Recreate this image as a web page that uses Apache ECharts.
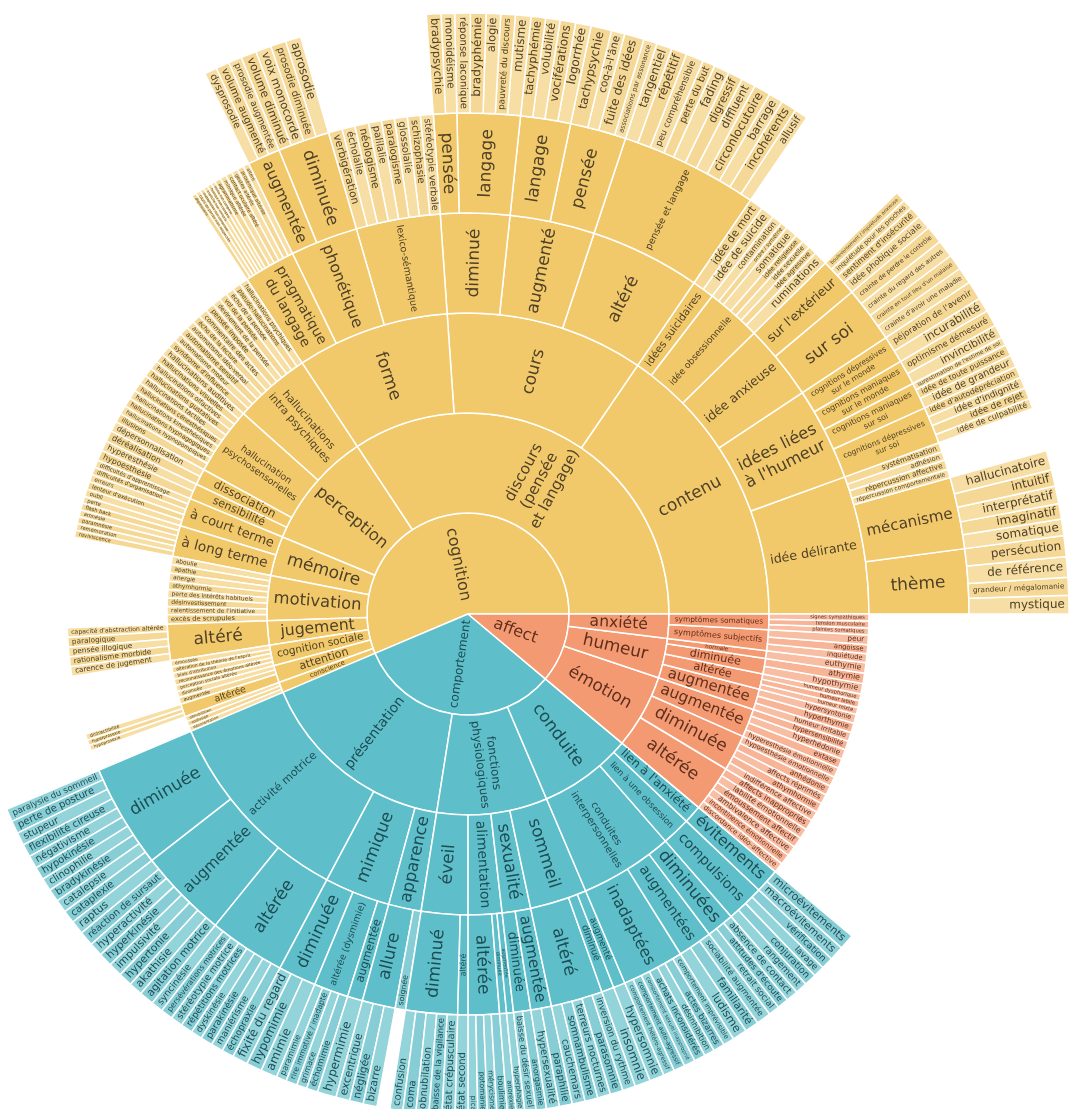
<!DOCTYPE html>
<html lang="fr">
<head>
<meta charset="utf-8">
<title>Sémiologie psychiatrique</title>
<script src="https://cdn.jsdelivr.net/npm/echarts@6/dist/echarts.min.js"></script>
<style>
html,body{margin:0;padding:0;background:#ffffff;}
#chart{width:1072px;height:1109px;}
</style>
</head>
<body>
<div id="chart"></div>
<script>
// ---------------- DATA ----------------
const rootNames = ["cognition", "comportement", "affect"];
const D = "discours\n(pensée\net langage)";
const H = "idées liées\nà l'humeur";
const F = "fonctions\nphysiologiques";
const CI = "conduites\ninterpersonnelles";

// each group: [path of parents (from the root category), leaves under it]
const cognitionGroups = [
  [`${D}|contenu|idée délirante|thème`, ["mystique","grandeur / mégalomanie","de référence","persécution"]],
  [`${D}|contenu|idée délirante|mécanisme`, ["somatique","imaginatif","interprétatif","intuitif","hallucinatoire"]],
  [`${D}|contenu|idée délirante`, ["répercussion comportementale","répercussion affective","adhésion","systématisation"]],
  [`${D}|contenu|${H}|cognitions dépressives\nsur soi`, ["idée de culpabilité","idée de rejet","idée d'indignité","idée d'autodépréciation"]],
  [`${D}|contenu|${H}|cognitions maniaques\nsur soi`, ["idée de grandeur","idée de toute puissance","surestimation de l'estime de soi"]],
  [`${D}|contenu|${H}|cognitions maniaques\nsur le monde`, ["invincibilité","optimisme démesuré"]],
  [`${D}|contenu|${H}|cognitions dépressives\nsur le monde`, ["incurabilité","péjoration de l'avenir"]],
  [`${D}|contenu|idée anxieuse|sur soi`, ["crainte d'avoir une maladie","crainte en tout lieu d'un malaise","crainte du regard des autres","crainte de perdre le contrôle"]],
  [`${D}|contenu|idée anxieuse|sur l'extérieur`, ["idée phobique sociale","sentiment d'insécurité","inquiétude pour les proches","bouleversement / inquiétude anxieuse"]],
  [`${D}|contenu|idée obsessionnelle`, ["ruminations","idée agressive","idée sexuelle","idée religieuse","somatique","ordre / symétrie","contamination"]],
  [`${D}|contenu|idées suicidaires`, ["idée de suicide","idée de mort"]],
  [`${D}|cours|altéré|pensée et langage`, ["allusif","incohérents","barrage","circonlocutoire","diffluent","digressif","fading","perte du but","peu compréhensible","répétitif","tangentiel"]],
  [`${D}|cours|augmenté|pensée`, ["associations par assonance","fuite des idées","coq-à-l'âne","tachypsychie"]],
  [`${D}|cours|augmenté|langage`, ["logorrhée","vociférations","volubilité","tachyphémie"]],
  [`${D}|cours|diminué|langage`, ["mutisme","pauvreté du discours","alogie","bradyphémie","réponse laconique"]],
  [`${D}|cours|diminué|pensée`, ["monoidéisme","bradypsychie"]],
  [`${D}|forme|lexico-sémantique`, ["stéréotypie verbale","schizophasie","glossolalie","paralogisme","palilalie","néologisme","écholalie","verbigération"]],
  [`${D}|forme|phonétique|diminuée`, ["aprosodie","prosodie diminuée","voix monocorde","volume diminué"]],
  [`${D}|forme|phonétique|augmentée`, ["prosodie augmentée","volume augmenté","dysprosodie"]],
  [`${D}|forme|pragmatique\ndu langage`, ["altéré","proxémique altérée","gestes altérés","contact oculaire altéré","mimique altérée","agrammatisme","ironie non comprise","humour non compris","implicite non compris","métaphores non comprises","tours de parole non respectés","digressions"]],
  ["perception|hallucinations\nintra psychiques", ["hallucinations psychiques","pseudo-hallucinations","écho de la pensée","vol de la pensée","devinement de la pensée","pensée imposée","commentaire des actes","écho de la lecture","automatisme idéo-verbal","automatisme sensitif","automatisme moteur","syndrome d'influence"]],
  ["perception|hallucination\npsychosensorielles", ["hallucinations auditives","hallucinations visuelles","hallucinations olfactives","hallucinations gustatives","hallucinations tactiles","hallucinations cénesthésiques","hallucinations kinesthésiques","hallucinations hypnagogiques","hallucinations hypnopompiques","illusions"]],
  ["perception|dissociation", ["dépersonnalisation","déréalisation"]],
  ["perception|sensibilité", ["hyperesthésie","hypoesthésie"]],
  ["mémoire|à court terme", ["difficultés d'apprentissage","difficultés d'organisation","erreurs","lenteur d'exécution","oubli"]],
  ["mémoire|à long terme", ["perte","flash back","amnésie","paramnésie","remémoration","reviviscence"]],
  ["motivation", ["aboulie","apathie","anergie","athymhormie","perte des intérêts habituels","désinvestissement","ralentissement de l'initiative","excès de scrupules"]],
  ["jugement|altéré", ["capacité d'abstraction altérée","paralogique","pensée illogique","rationalisme morbide","carence de jugement"]],
  ["cognition sociale", ["émoussée","altération de la théorie de l'esprit","biais d'attribution","reconnaissance des émotions altérée","perception sociale altérée"]],
  ["attention", ["diminuée","augmentée"]],
  ["attention|altérée", ["distractibilité","hyperprosexie","hypoprosexie"]],
  ["conscience", ["obnubilation","confusion","désorientation"]]
];
const cognitionValues = [
  [1.8,1.7,2.0,2.0],
  [1.6,1.5,1.7,1.6,1.9],
  [1.0,1.1,1.0,1.1],
  [1.0,1.1,1.1,1.1],
  [1.2,1.1,0.8],
  [1.3,1.6],
  [1.4,1.8],
  [1.6,1.5,1.7,1.7],
  [1.4,1.1,1.0,1.0],
  [1.6,1.0,1.0,1.0,1.4,0.8,1.2],
  [1.6,1.6],
  [1.3,1.5,1.4,1.6,1.4,1.4,1.5,1.2,1.7,1.5,1.5],
  [1.3,1.9,1.3,2.0],
  [1.5,1.5,1.4,1.4],
  [1.5,1.4,1.4,1.5,1.5],
  [1.3,1.4],
  [1.5,1.5,1.5,1.5,1.5,1.6,1.5,1.6],
  [1.5,1.5,1.5,1.5],
  [1.3,1.3,1.2],
  [0.7,0.75,0.75,0.75,0.75,0.7,0.5,0.5,0.5,0.5,0.55,0.55],
  [1.2,1.2,1.2,1.2,1.2,1.3,1.3,1.2,1.2,1.3,1.2,1.3],
  [1.4,1.3,1.3,1.3,1.3,1.3,1.3,1.3,1.3,1.3],
  [1.5,1.6],
  [1.5,1.5],
  [1.1,1.1,1.1,1.1,1.1],
  [1.0,1.0,1.0,1.0,1.0,1.0],
  [1.6,1.6,1.6,1.6,1.6,1.6,1.6,1.8],
  [1.4,1.4,1.4,1.4,1.4],
  [1.2,1.2,1.2,1.2,1.2],
  [1.2,1.3],
  [0.9,0.8,0.8],
  [1.0,1.0,1.0]
];

const comportementGroups = [
  ["présentation|activité motrice|diminuée", ["paralysie du sommeil","perte de posture","stupeur","flexibilité cireuse","négativisme","hypokinésie","clinophilie","bradykinésie","catalepsie","cataplexie"]],
  ["présentation|activité motrice|augmentée", ["raptus","réaction de sursaut","hyperactivité","hyperkinésie","impulsivité","hypertonie","akathisie","agitation motrice"]],
  ["présentation|activité motrice|altérée", ["syncinésie","persévérations motrices","stéréotypie motrice","répétitions motrices","dyskinésie","parakinésie","maniérisme","échopraxie"]],
  ["présentation|mimique|diminuée", ["fixité du regard","hypomimie","amimie"]],
  ["présentation|mimique|altérée (dysmimie)", ["paramimie","rire immotivé / inadapté","grimace","échomimie"]],
  ["présentation|mimique|augmentée", ["hypermimie"]],
  ["présentation|apparence|allure", ["excentrique","négligée","bizarre"]],
  ["présentation|apparence", ["soignée"]],
  [`${F}|éveil|diminué`, ["confusion","coma","obnubilation","baisse de la vigilance","état crépusculaire"]],
  [`${F}|éveil|altéré`, ["état second"]],
  [`${F}|alimentation|altérée`, ["pica","potomanie","mérycisme","boulimie"]],
  [`${F}|alimentation|diminuée`, ["anorexie"]],
  [`${F}|alimentation|augmentée`, ["hyperphagie"]],
  [`${F}|sexualité|diminuée`, ["baisse du désir sexuel","anorgasmie"]],
  [`${F}|sexualité|augmentée`, ["hypersexualité","paraphilie"]],
  [`${F}|sommeil|altéré`, ["cauchemars","somnambulisme","terreurs nocturnes","parasomnie","inversion du rythme"]],
  [`${F}|sommeil|diminué`, ["insomnie"]],
  [`${F}|sommeil|augmenté`, ["hypersomnie"]],
  [`conduite|${CI}|inadaptées`, ["comportement hétéro-agressif","comportement auto-agressif","comportement sexuel inapproprié","achats inconsidérés","désinhibition","actes bizarres","comportement imprévisible"]],
  [`conduite|${CI}|augmentées`, ["ludisme","familiarité","sociabilité augmentée"]],
  [`conduite|${CI}|diminuées`, ["retrait social","attitudes d'écoute","absence de contact"]],
  ["conduite|lien à une obsession|compulsions", ["rangement","conjuration","lavage","vérification"]],
  ["conduite|lien à l'anxiété|évitements", ["macroévitements","microévitements"]]
];
const comportementValues = [
  [1.5,1.5,1.5,1.5,1.5,1.5,1.5,1.5,1.5,1.5],
  [1.6,1.7,1.6,1.6,1.6,1.6,1.6,1.7],
  [1.4,1.4,1.4,1.4,1.3,1.4,1.4,1.4],
  [1.8,1.8,1.9],
  [1.2,1.3,1.2,1.3],
  [2.2],
  [1.6,1.6,1.6],
  [1.5],
  [1.5,1.5,1.5,1.5,1.5],
  [1.5],
  [1.1,1.1,1.1,1.2],
  [1.0],
  [1.0],
  [1.3,1.2],
  [1.5,1.5],
  [1.5,1.5,1.5,1.5,1.5],
  [1.8],
  [1.7],
  [1.3,1.3,1.3,1.3,1.2,1.3,1.3],
  [1.7,1.6,1.7],
  [1.3,1.3,1.4],
  [1.4,1.4,1.3,1.4],
  [1.7,1.8]
];

const affectGroups = [
  ["émotion|altérée", ["discordance idéo-affective","incontinence émotionnelle","ambivalence affective","émoussement affectif","labilité émotionnelle","affects inappropriés"]],
  ["émotion|diminuée", ["indifférence affective","athymhormie","affects réprimés","anhédonie","hypoesthésie émotionnelle"]],
  ["émotion|augmentée", ["hyperesthésie émotionnelle","extase","hyperhédonie","hypersensibilité"]],
  ["humeur|augmentée", ["humeur irritable","hyperthymie","hypersyntonie"]],
  ["humeur|altérée", ["humeur mixte","humeur labile","humeur dysphorique"]],
  ["humeur|diminuée", ["hypothymie","athymie"]],
  ["humeur|normale", ["euthymie"]],
  ["anxiété|symptômes subjectifs", ["inquiétude","angoisse","peur"]],
  ["anxiété|symptômes somatiques", ["plaintes somatiques","tension musculaire","signes sympathiques"]]
];
const affectValues = [
  [1.5,1.5,1.5,1.5,1.5,1.5],
  [1.4,1.4,1.4,1.4,1.4],
  [1.4,1.4,1.4,1.3],
  [1.3,1.4,1.3],
  [1.0,1.0,1.0],
  [1.5,1.5],
  [1.5],
  [1.3,1.3,1.4],
  [1.0,1.0,1.0]
];

// ---------------- STYLE ----------------
const RINGS = [0, 101, 201, 301, 401, 501, 601];
const PALETTE = {
  cognition:    { base: '#F2C96A', leafA: '#F7DEA4', leafB: '#F5D895', text: '#4f4128' },
  comportement: { base: '#5EBFCA', leafA: '#93D3DA', leafB: '#87CDD5', text: '#1e4c53' },
  affect:       { base: '#F49A72', leafA: '#F8BEA3', leafB: '#F7B497', text: '#5e2f1d' }
};
const FONT = 'DejaVu Sans';
const mctx = document.createElement('canvas').getContext('2d');
function measure(t, fs) { mctx.font = fs + 'px ' + FONT; return mctx.measureText(t).width; }

function buildTree(rootName, groups, values) {
  const root = { name: rootName, children: [] };
  groups.forEach((g, gi) => {
    let node = root;
    g[0].split('|').forEach(part => {
      let c = node.children.find(ch => ch.name === part && ch.children);
      if (!c) { c = { name: part, children: [] }; node.children.push(c); }
      node = c;
    });
    g[1].forEach((leaf, li) => node.children.push({ name: leaf, value: values[gi][li] }));
  });
  return root;
}
function total(n) { return n.children ? n.children.reduce((s, c) => s + total(c), 0) : n.value; }

const trees = [
  buildTree(rootNames[0], cognitionGroups, cognitionValues),
  buildTree(rootNames[1], comportementGroups, comportementValues),
  buildTree(rootNames[2], affectGroups, affectValues)
];
const grand = trees.reduce((s, t) => s + total(t), 0);

function decorate(node, depth, startDeg, pal, idx) {
  const span = total(node) / grand * 360;
  const mid = startDeg + span / 2;
  const isLeaf = !node.children;
  const r0 = RINGS[depth - 1], r1 = RINGS[depth];
  const lines = node.name.split('\n');
  const w10 = Math.max(...lines.map(l => measure(l, 10)));
  const radialAvail = (r1 - r0) - (isLeaf ? 8 : 12);
  const rm = (r0 + r1) / 2;
  const arc = rm * span * Math.PI / 180;
  const cap = isLeaf ? 12 : (depth === 1 ? 16 : 17);
  let fs = Math.min(cap, radialAvail * 10 / w10, arc / (lines.length * 1.18));
  fs = Math.max(2, Math.round(fs * 10) / 10);
  const label = { fontSize: fs, lineHeight: Math.round(fs * 1.15 * 10) / 10, color: pal.text, fontFamily: FONT };
  if (isLeaf) {
    const w = measure(node.name, fs);
    const P = Math.max(0, (r1 - r0) - 8 - w);
    const m = ((mid % 360) + 360) % 360;
    const leftSide = m > 90 && m < 270;
    label.padding = leftSide ? [0, P, 0, 0] : [0, 0, 0, P];
    node.itemStyle = { color: idx % 2 ? pal.leafB : pal.leafA };
  } else {
    node.itemStyle = { color: pal.base };
    let s = startDeg;
    node.children.forEach((c, i) => { decorate(c, depth + 1, s, pal, i); s += total(c) / grand * 360; });
  }
  node.label = label;
}
let acc = 0;
trees.forEach(t => { decorate(t, 1, acc, PALETTE[t.name], 0); acc += total(t) / grand * 360; });

const levels = [{}];
for (let i = 1; i < RINGS.length; i++) levels.push({ r0: RINGS[i - 1], r: RINGS[i] });

const chart = echarts.init(document.getElementById('chart'), null, { renderer: 'canvas' });
chart.setOption({
  animation: false,
  series: [{
    type: 'sunburst',
    center: [468, 614],
    radius: [0, 601],
    startAngle: 0,
    clockwise: false,
    sort: null,
    nodeClick: false,
    data: trees,
    levels: levels,
    itemStyle: { borderColor: '#ffffff', borderWidth: 1.5 },
    label: { rotate: 'radial', fontFamily: FONT },
    emphasis: { focus: 'none' }
  }]
});
</script>
</body>
</html>
